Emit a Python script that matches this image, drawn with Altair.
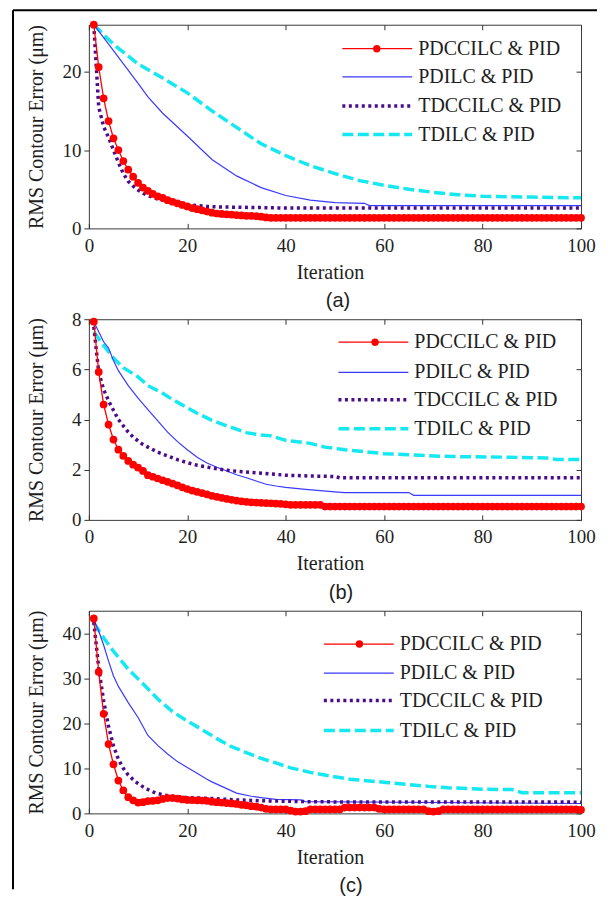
import altair as alt
import pandas as pd

SERIES = ["PDCCILC & PID", "PDILC & PID", "TDCCILC & PID", "TDILC & PID"]
COLORS = ["#ff0000", "#3a3aff", "#4b0c8c", "#16e8f2"]
X_TICKS = [0, 20, 40, 60, 80, 100]
ITER = list(range(1, 101))

# ---------------- panel (a) ----------------
A_RED = [26.0, 20.6, 16.6, 13.7, 11.5, 10.0, 8.6, 7.5, 6.6, 5.8,
         5.2, 4.8, 4.4, 4.1, 3.9, 3.6, 3.4, 3.2, 3.0, 2.8,
         2.6, 2.45, 2.3, 2.15, 2.0, 1.9, 1.85, 1.8, 1.75, 1.7,
         1.65, 1.6, 1.6, 1.55, 1.5, 1.4, 1.35, 1.35, 1.35, 1.35,
         1.35, 1.35, 1.35, 1.35, 1.35, 1.35, 1.35, 1.35, 1.35, 1.35,
         1.35, 1.35, 1.35, 1.35, 1.35, 1.35, 1.35, 1.35, 1.35, 1.35,
         1.35, 1.35, 1.35, 1.35, 1.35, 1.35, 1.35, 1.35, 1.35, 1.35,
         1.35, 1.35, 1.35, 1.35, 1.35, 1.35, 1.35, 1.35, 1.35, 1.35,
         1.35, 1.35, 1.35, 1.35, 1.35, 1.35, 1.35, 1.35, 1.35, 1.35,
         1.35, 1.35, 1.35, 1.35, 1.35, 1.35, 1.35, 1.35, 1.35, 1.35]
A_BLUE_IT = [1, 5, 10, 12, 15, 20, 25, 30, 35, 40, 45, 50, 56, 57, 100]
A_BLUE = [26.0, 22.7, 18.5, 16.8, 14.7, 11.8, 8.8, 6.7, 5.2, 4.2, 3.6, 3.3, 3.2, 2.9, 2.9]
A_PUR_IT = [1, 2, 3, 4, 5, 6, 7, 8, 9, 10, 11, 12, 13, 14, 15, 16, 17, 18, 19, 20,
            22, 24, 26, 30, 35, 40, 100]
A_PUR = [26.0, 15.5, 13.0, 11.6, 10.0, 8.4, 7.0, 6.0, 5.4, 4.9, 4.5, 4.2, 3.95, 3.75,
         3.6, 3.45, 3.3, 3.2, 3.1, 3.0, 2.9, 2.8, 2.75, 2.7, 2.65, 2.6, 2.6]
A_CY_IT = [1, 5, 10, 15, 20, 25, 30, 35, 40, 45, 50, 55, 60, 65, 70, 75, 80, 90, 100]
A_CY = [26.0, 23.5, 21.0, 19.2, 17.3, 15.0, 12.9, 10.8, 9.3, 8.0, 7.0, 6.1, 5.5, 5.0,
        4.6, 4.3, 4.1, 4.0, 3.9]

# ---------------- panel (b) ----------------
B_RED = [7.9, 5.9, 4.6, 3.8, 3.2, 2.8, 2.55, 2.35, 2.2, 2.08,
         1.95, 1.78, 1.72, 1.65, 1.58, 1.52, 1.45, 1.38, 1.3, 1.23,
         1.17, 1.12, 1.07, 1.02, 0.96, 0.92, 0.88, 0.84, 0.8, 0.77,
         0.74, 0.72, 0.7, 0.69, 0.68, 0.67, 0.66, 0.65, 0.64, 0.62,
         0.6, 0.6, 0.6, 0.6, 0.6, 0.6, 0.6, 0.53, 0.53, 0.53,
         0.53, 0.53, 0.53, 0.53, 0.53, 0.53, 0.53, 0.53, 0.53, 0.53,
         0.53, 0.53, 0.53, 0.53, 0.53, 0.53, 0.53, 0.53, 0.53, 0.53,
         0.53, 0.53, 0.53, 0.53, 0.53, 0.53, 0.53, 0.53, 0.53, 0.53,
         0.53, 0.53, 0.53, 0.53, 0.53, 0.53, 0.53, 0.53, 0.53, 0.53,
         0.53, 0.53, 0.53, 0.53, 0.53, 0.53, 0.53, 0.53, 0.53, 0.53]
B_BLUE_IT = [1, 2, 3, 4, 5, 6, 8, 10, 12, 14, 16, 18, 20, 22, 24, 26, 28, 30, 32, 34,
             36, 38, 40, 44, 50, 52, 65, 66, 100]
B_BLUE = [7.9, 7.5, 7.1, 6.85, 6.35, 5.95, 5.35, 4.85, 4.4, 3.95, 3.5, 3.12, 2.8, 2.5,
          2.27, 2.1, 1.95, 1.8, 1.68, 1.55, 1.42, 1.35, 1.3, 1.22, 1.12, 1.09, 1.09,
          0.98, 0.98]
B_PUR_IT = [1, 2, 3, 4, 5, 6, 7, 8, 9, 10, 11, 12, 14, 16, 18, 20, 22, 25, 28, 30,
            34, 40, 45, 50, 51, 100]
B_PUR = [7.7, 5.9, 5.2, 4.75, 4.37, 4.0, 3.75, 3.5, 3.3, 3.15, 3.0, 2.9, 2.7, 2.55,
         2.4, 2.28, 2.18, 2.07, 1.98, 1.94, 1.88, 1.78, 1.75, 1.73, 1.68, 1.68]
B_CY_IT = [1, 3, 5, 7, 10, 12, 15, 17, 20, 22, 25, 28, 30, 32, 35, 37, 40, 45, 48, 52,
           57, 60, 65, 70, 75, 85, 93, 95, 100]
B_CY = [7.5, 6.95, 6.45, 6.07, 5.7, 5.35, 5.05, 4.8, 4.47, 4.25, 3.97, 3.75, 3.62,
        3.48, 3.38, 3.35, 3.17, 3.05, 2.9, 2.8, 2.7, 2.64, 2.6, 2.55, 2.52, 2.5, 2.47,
        2.41, 2.41]

# ---------------- panel (c) ----------------
C_RED = [43.3, 31.4, 22.1, 15.4, 10.9, 7.3, 5.1, 3.6, 2.9, 2.4,
         2.5, 2.7, 2.8, 2.9, 3.2, 3.4, 3.4, 3.3, 3.1, 3.0,
         2.95, 2.9, 2.85, 2.8, 2.6, 2.5, 2.4, 2.3, 2.2, 2.1,
         1.9, 1.8, 1.6, 1.5, 1.3, 1.0, 0.9, 0.9, 0.9, 0.9,
         0.6, 0.4, 0.4, 0.5, 0.9, 0.9, 0.9, 0.9, 0.9, 0.9,
         0.9, 1.3, 1.3, 1.3, 1.3, 1.3, 1.3, 1.3, 1.0, 0.9,
         0.9, 0.9, 0.9, 0.9, 0.9, 0.9, 0.9, 0.9, 0.5, 0.4,
         0.5, 0.9, 0.9, 0.9, 0.9, 0.9, 0.9, 0.9, 0.9, 0.9,
         0.9, 0.9, 0.9, 0.9, 0.9, 0.9, 0.9, 0.9, 0.9, 0.9,
         0.9, 0.9, 0.9, 0.9, 0.9, 0.9, 0.9, 0.9, 0.9, 0.8]
C_BLUE_IT = [1, 2, 3, 4, 5, 6, 8, 10, 12, 14, 16, 18, 20, 22, 24, 25, 27, 30, 33, 35,
             38, 43, 44, 100]
C_BLUE = [43.0, 40.5, 37.4, 33.8, 30.5, 28.2, 24.6, 21.3, 17.3, 15.1, 13.2, 11.5, 10.2,
          8.9, 7.6, 7.0, 6.0, 4.5, 3.8, 3.5, 3.1, 3.0, 2.6, 2.2]
C_PUR_IT = [1, 2, 3, 4, 5, 6, 7, 8, 9, 10, 11, 12, 13, 14, 15, 16, 17, 18, 19, 20,
            25, 30, 35, 40, 45, 50, 100]
C_PUR = [42.5, 32.3, 25.0, 19.3, 15.0, 12.0, 10.0, 8.5, 7.5, 6.6, 5.9, 5.3, 4.8, 4.4,
         4.15, 3.95, 3.8, 3.7, 3.6, 3.5, 3.3, 3.0, 2.8, 2.7, 2.6, 2.55, 2.5]
C_CY_IT = [1, 3, 5, 8, 11, 14, 17, 20, 23, 26, 29, 32, 35, 38, 41, 45, 49, 53, 57, 61,
           65, 69, 73, 77, 80, 86, 88, 100]
C_CY = [42.3, 39.0, 36.0, 32.0, 28.8, 25.4, 22.6, 20.5, 18.6, 16.6, 14.8, 13.5, 12.2,
        11.2, 10.1, 9.1, 8.3, 7.6, 7.2, 6.8, 6.4, 6.0, 5.7, 5.5, 5.35, 5.3, 4.6, 4.6]

SERIF = "Liberation Serif, Times New Roman, serif"
SANS = "Liberation Sans, Arial, sans-serif"
W = 493
TXT = "#1e1e1e"


def line_df(it, vals, name):
    return pd.DataFrame({"iteration": it, "value": vals, "series": name})


def line_legend(sx, row, sw, dash=None):
    # symbol length 70 px; vega centres the entry at half of ceil(70 + strokeWidth)
    off = -(-(70 + sw) // 1)
    kw = dict(orient="none", legendX=sx - (off / 2 - 35), legendY=row - off / 2, title=None,
              symbolType="stroke", symbolSize=4900, symbolStrokeWidth=sw,
              labelOffset=76 - (off / 2 + 35), padding=0,
              labelFont=SERIF, labelFontSize=20, labelColor=TXT, labelLimit=400)
    if dash is not None:
        kw["symbolDash"] = dash
    return alt.Legend(**kw)


def make_panel(red, blue_it, blue, pur_it, pur, cy_it, cy, ymax, yticks, h,
               leg_x, rows, dot_x, cap, cap_dx, frame):
    xs = alt.Scale(domain=[0, 100], nice=False, zero=False)
    ys = alt.Scale(domain=[0, ymax], nice=False)

    ax_bottom = alt.Axis(orient="bottom", values=X_TICKS, offset=-5, tickSize=5,
                         labelPadding=8, labelFlush=False, title="Iteration",
                         titlePadding=7, titleX=241.5)
    ax_left = alt.Axis(orient="left", values=yticks, tickSize=5, labelPadding=3,
                       labelFlush=False,
                       title="RMS Contour Error (μm)", titleX=-46, titleY=h / 2,
                       titleAngle=270, titleBaseline="alphabetic", titleAlign="center")
    ax_top = alt.Axis(orient="top", values=X_TICKS, offset=-5, tickSize=5,
                      labels=False, title=None)
    ax_right = alt.Axis(orient="right", values=yticks, offset=-5, tickSize=5,
                        labels=False, title=None)

    def color(name, col, legend):
        return alt.Color("series:N", scale=alt.Scale(domain=[name], range=[col]), legend=legend)

    cyan = alt.Chart(line_df(cy_it, cy, SERIES[3])).mark_line(
        strokeWidth=3.5, strokeDash=[11, 4.5]).encode(
        x=alt.X("iteration:Q", scale=xs, axis=ax_bottom),
        y=alt.Y("value:Q", scale=ys, axis=ax_left),
        color=color(SERIES[3], COLORS[3], line_legend(leg_x, rows[3], 3.5, [11, 4.5])),
    )
    blue_l = alt.Chart(line_df(blue_it, blue, SERIES[1])).mark_line(strokeWidth=1.2).encode(
        x=alt.X("iteration:Q", scale=xs, axis=ax_top),
        y=alt.Y("value:Q", scale=ys, axis=ax_right),
        color=color(SERIES[1], COLORS[1], line_legend(leg_x, rows[1], 1.2)),
    )
    purple = alt.Chart(line_df(pur_it, pur, SERIES[2])).mark_line(
        strokeWidth=3.5, strokeDash=[3, 3.5]).encode(
        x=alt.X("iteration:Q", scale=xs, axis=None),
        y=alt.Y("value:Q", scale=ys, axis=None),
        color=color(SERIES[2], COLORS[2], line_legend(leg_x, rows[2], 3.5, [3, 3.5])),
    )
    red_df = line_df(ITER, red, SERIES[0])
    red_l = alt.Chart(red_df).mark_line(strokeWidth=1.3).encode(
        x=alt.X("iteration:Q", scale=xs, axis=None),
        y=alt.Y("value:Q", scale=ys, axis=None),
        color=color(SERIES[0], COLORS[0], line_legend(leg_x, rows[0], 1.3)),
    )
    red_p = alt.Chart(red_df).mark_point(filled=True, size=60, opacity=1).encode(
        x=alt.X("iteration:Q", scale=xs, axis=None),
        y=alt.Y("value:Q", scale=ys, axis=None),
        color=color(SERIES[0], COLORS[0], alt.Legend(
            orient="none", legendX=dot_x - 10, legendY=rows[0] - 10, title=None,
            symbolType="circle", symbolSize=55, symbolStrokeWidth=0, padding=0,
            labelFont=SERIF, labelFontSize=20, labelExpr="''", labelLimit=400)),
    )
    caption = alt.Chart(pd.DataFrame({"cap": [cap]})).mark_text(
        font=SANS, fontSize=20, color=TXT, baseline="middle", align="center").encode(
        x=alt.value(W / 2 + cap_dx), y=alt.value(h + 73), text="cap:N")

    layers = [cyan, blue_l, purple, red_l, red_p, caption]
    if frame:
        fdf = pd.DataFrame({"k": [0]})
        layers.append(alt.Chart(fdf).mark_rule(color="black", strokeWidth=2).encode(
            x=alt.value(-76), y=alt.value(-14.5), y2=alt.value(866)))
        layers.append(alt.Chart(fdf).mark_rule(color="black", strokeWidth=2).encode(
            x=alt.value(-76), x2=alt.value(509), y=alt.value(-14.5)))
    return alt.layer(*layers).resolve_scale(color="independent").properties(width=W, height=h)


pa = make_panel(A_RED, A_BLUE_IT, A_BLUE, A_PUR_IT, A_PUR, A_CY_IT, A_CY, 26, [0, 10, 20], 204,
                253.9, [24, 52.3, 81.3, 110], 288.4, "(a)", 3, True)
pb = make_panel(B_RED, B_BLUE_IT, B_BLUE, B_PUR_IT, B_PUR, B_CY_IT, B_CY, 8, [0, 2, 4, 6, 8], 201,
                250, [23, 53.3, 80.6, 109.6], 286.7, "(b)", 6, False)
pc = make_panel(C_RED, C_BLUE_IT, C_BLUE, C_PUR_IT, C_PUR, C_CY_IT, C_CY, 45, [0, 10, 20, 30, 40], 203,
                235.4, [33.4, 62.4, 90, 120], 271, "(c)", 16, False)

chart = alt.vconcat(pa, pb, pc, spacing=91, bounds="flush").properties(
    padding={"left": 3, "top": 0, "right": 0, "bottom": 0}
).configure(font=SERIF).configure_view(stroke="#3a3a3a", strokeWidth=1).configure_axis(
    labelFont=SERIF, labelFontSize=19, labelColor=TXT, titleFont=SERIF, titleFontSize=20,
    titleFontWeight="normal", titleColor=TXT, tickColor="#333333", domain=False, grid=False
).configure_legend(labelFont=SERIF, labelFontSize=20, labelColor=TXT)

chart.save("out.html", embed_options={"renderer": "svg", "actions": False})
